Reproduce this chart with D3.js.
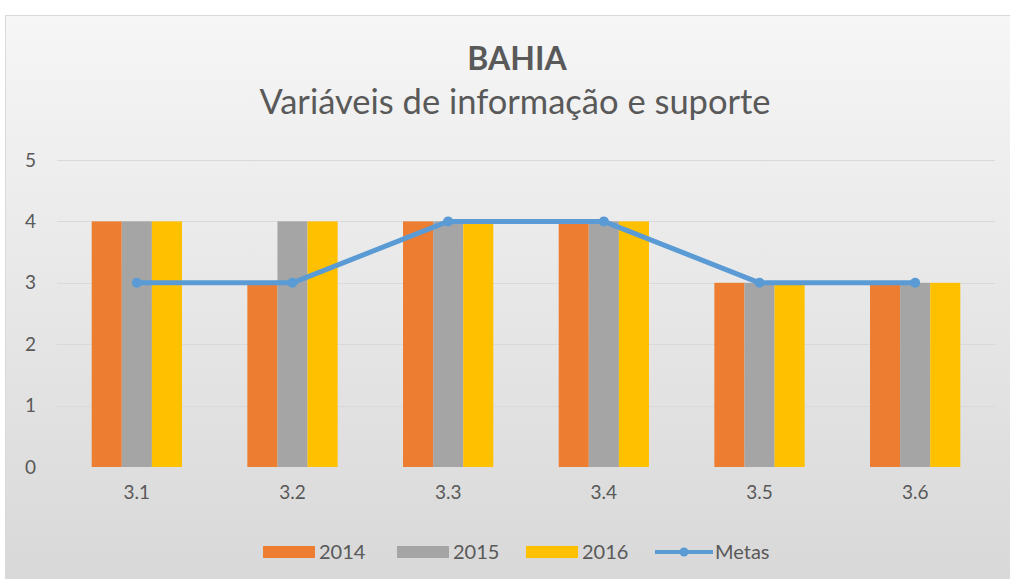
<!DOCTYPE html>
<html>
  <head>
    <meta charset="utf-8">
    <script src="https://d3js.org/d3.v7.min.js" charset="utf-8"></script>
    <style>
      body { margin: 0; background: #ffffff; }
      text { font-family: Lato, "Open Sans", sans-serif; }
    </style>
  </head>
  <body>
    <svg id="chart" width="1010" height="579"></svg>
  </body>
  <script type="text/javascript">
    var titleText = "BAHIA";
    var subtitleText = "Variáveis de informação e suporte";
    var categories = ["3.1", "3.2", "3.3", "3.4", "3.5", "3.6"];
    var series2014 = [4, 3, 4, 4, 3, 3];
    var series2015 = [4, 4, 4, 4, 3, 3];
    var series2016 = [4, 4, 4, 4, 3, 3];
    var metas = [3, 3, 4, 4, 3, 3];
    var yTicks = [0, 1, 2, 3, 4, 5];
    var barNames = ["2014", "2015", "2016"];
    var barColors = ["#ED7D31", "#A5A5A5", "#FFC000"];
    var lineName = "Metas";
    var lineColor = "#5B9BD5";

    var barSeries = [series2014, series2015, series2016];

    var svg = d3.select("#chart");

    // background panel
    var defs = svg.append("defs");
    var grad = defs.append("linearGradient")
      .attr("id", "bg")
      .attr("x1", 0).attr("y1", 0).attr("x2", 0).attr("y2", 1);
    grad.append("stop").attr("offset", "0%").attr("stop-color", "#f6f6f6");
    grad.append("stop").attr("offset", "100%").attr("stop-color", "#d8d8d8");

    svg.append("rect")
      .attr("x", 5.5).attr("y", 15.5)
      .attr("width", 1010).attr("height", 570)
      .attr("fill", "url(#bg)")
      .attr("stroke", "#d9d9d9");

    // titles
    svg.append("text")
      .attr("x", 517).attr("y", 70)
      .attr("text-anchor", "middle")
      .attr("font-size", 32)
      .attr("font-weight", "bold")
      .attr("fill", "#595959")
      .text(titleText);

    svg.append("text")
      .attr("x", 515).attr("y", 114)
      .attr("text-anchor", "middle")
      .attr("font-size", 34.5)
      .attr("fill", "#595959")
      .text(subtitleText);

    // scales
    var x = d3.scaleBand()
      .domain(categories)
      .range([59, 993])
      .paddingInner(0.42)
      .paddingOuter(0.21);

    var xInner = d3.scaleBand()
      .domain(barNames)
      .range([0, x.bandwidth()]);

    var y = d3.scaleLinear()
      .domain([0, 5])
      .range([467, 160]);

    // gridlines
    svg.append("g")
      .selectAll("line")
      .data(yTicks.filter(function(d) { return d > 0; }))
      .enter().append("line")
      .attr("x1", 57).attr("x2", 995)
      .attr("y1", function(d) { return Math.round(y(d)) + 0.5; })
      .attr("y2", function(d) { return Math.round(y(d)) + 0.5; })
      .attr("stroke", "#d9d9d9")
      .attr("stroke-width", 1);

    // y axis labels
    var yAxis = d3.axisLeft(y).tickValues(yTicks).tickFormat(d3.format("d"))
      .tickSize(0).tickPadding(0);
    var gy = svg.append("g")
      .attr("transform", "translate(36,0)")
      .call(yAxis);
    gy.select(".domain").remove();
    gy.selectAll("text")
      .attr("font-family", "Lato, 'Open Sans', sans-serif")
      .attr("font-size", 19)
      .attr("fill", "#595959");

    // x axis labels
    var xAxis = d3.axisBottom(x).tickSize(0).tickPadding(0);
    var gx = svg.append("g")
      .attr("transform", "translate(0,485)")
      .call(xAxis);
    gx.select(".domain").remove();
    gx.selectAll("text")
      .attr("font-family", "Lato, 'Open Sans', sans-serif")
      .attr("font-size", 19)
      .attr("fill", "#595959");

    // bars
    var groups = svg.append("g")
      .selectAll("g")
      .data(categories)
      .enter().append("g")
      .attr("transform", function(d) { return "translate(" + x(d) + ",0)"; });

    groups.selectAll("rect")
      .data(function(d, i) {
        return barNames.map(function(n, j) {
          return {name: n, value: barSeries[j][i], color: barColors[j]};
        });
      })
      .enter().append("rect")
      .attr("x", function(d) { return xInner(d.name); })
      .attr("y", function(d) { return y(d.value); })
      .attr("width", xInner.bandwidth())
      .attr("height", function(d) { return y(0) - y(d.value); })
      .attr("fill", function(d) { return d.color; });

    // metas line
    var line = d3.line()
      .x(function(d, i) { return x(categories[i]) + x.bandwidth() / 2; })
      .y(function(d) { return y(d); });

    svg.append("path")
      .datum(metas)
      .attr("d", line)
      .attr("fill", "none")
      .attr("stroke", lineColor)
      .attr("stroke-width", 5)
      .attr("stroke-linejoin", "round");

    svg.append("g")
      .selectAll("circle")
      .data(metas)
      .enter().append("circle")
      .attr("cx", function(d, i) { return x(categories[i]) + x.bandwidth() / 2; })
      .attr("cy", function(d) { return y(d); })
      .attr("r", 5)
      .attr("fill", lineColor);

    // legend
    var legend = svg.append("g").attr("transform", "translate(0,552)");
    var legendX = [263, 397, 526];
    barNames.forEach(function(n, j) {
      legend.append("rect")
        .attr("x", legendX[j]).attr("y", -6)
        .attr("width", 52).attr("height", 12)
        .attr("fill", barColors[j]);
      legend.append("text")
        .attr("x", legendX[j] + 56).attr("y", 7)
        .attr("font-size", 20)
        .attr("fill", "#595959")
        .text(n);
    });
    legend.append("line")
      .attr("x1", 655).attr("x2", 713)
      .attr("y1", 0).attr("y2", 0)
      .attr("stroke", lineColor)
      .attr("stroke-width", 4);
    legend.append("circle")
      .attr("cx", 684).attr("cy", 0).attr("r", 4.5)
      .attr("fill", lineColor);
    legend.append("text")
      .attr("x", 715).attr("y", 7)
      .attr("font-size", 20)
      .attr("fill", "#595959")
      .text(lineName);
  </script>
</html>
